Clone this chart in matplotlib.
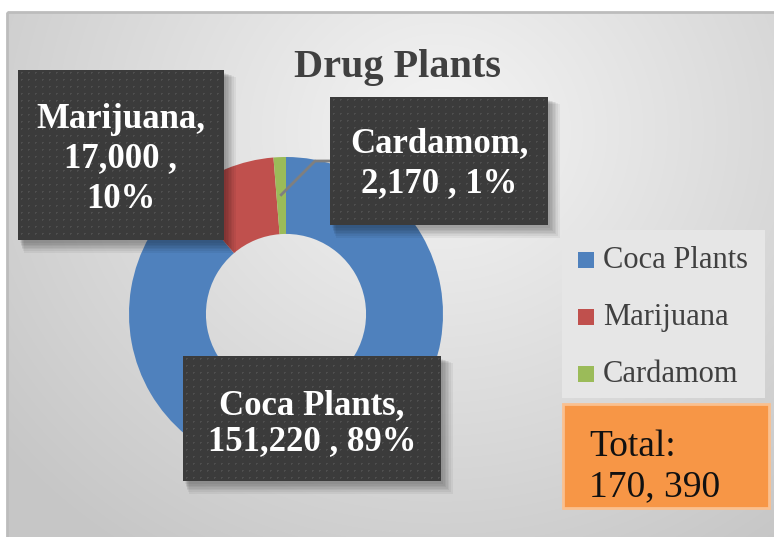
import numpy as np
import matplotlib.pyplot as plt
from matplotlib.patches import Rectangle

# donut data
names = ["Coca Plants", "Marijuana", "Cardamom"]
values = [151220, 17000, 2170]
colors = ["#4F81BD", "#C0504D", "#9BBB59"]
title = "Drug Plants"

W, H = 774, 537
plt.rcParams['font.family'] = ['Liberation Serif', 'DejaVu Serif']

fig = plt.figure(figsize=(W / 100, H / 100), dpi=100)

# background layer, pixel coordinates with y going down
bg = fig.add_axes([0, 0, 1, 1], zorder=0)
bg.axis('off')
yy, xx = np.mgrid[12:H, 7:W]
d = np.hypot((xx - 440) / 1.1, (yy - 130) / 1.0)
shade = np.clip(0.96 - 0.2 * d / 560, 0.78, 0.965)
bg.imshow(np.dstack([shade] * 3), extent=(7, W, H, 12), aspect='auto', interpolation='bilinear')
bg.add_patch(Rectangle((7, 12), W, H, fill=False, edgecolor='#bcbcbc', lw=2))
bg.set_xlim(0, W)
bg.set_ylim(H, 0)

# donut, centre (286, 314) px, radius 157 px
cx, cy, R = 286, 314, 157
dn = fig.add_axes([(cx - R) / W, (H - cy - R) / H, 2 * R / W, 2 * R / H], zorder=1)
dn.patch.set_alpha(0)
wedges, _ = dn.pie(values, colors=colors, startangle=90, counterclock=False,
                   radius=1, wedgeprops=dict(width=0.49, edgecolor='none'))
dn.set_xlim(-1, 1)
dn.set_ylim(-1, 1)
dn.set_aspect('equal')

# overlay: title, labels, legend, total
ov = fig.add_axes([0, 0, 1, 1], zorder=2)
ov.patch.set_alpha(0)
ov.axis('off')
ov.set_xlim(0, W)
ov.set_ylim(H, 0)

ov.text(398, 77, title, ha='center', va='baseline', fontsize=29,
        fontweight='bold', color='#404040')

total = sum(values)
pcts = [round(100 * v / total) for v in values]


def dark_box(x0, y0, x1, y1):
    # soft shadow towards the lower right
    for k in range(7):
        ov.add_patch(Rectangle((x0 + 2 + k * 0.6, y0 + 3 + k * 0.6), x1 - x0 + k, y1 - y0 + k,
                               facecolor='black', edgecolor='none', alpha=0.05, zorder=1))
    w, h = int(x1 - x0), int(y1 - y0)
    pat = np.empty((h, w, 3))
    pat[:] = 0.235
    pat[2::7, 3::7] = 0.31
    pat[3::7, 3::7] = 0.30
    pat[2::7, 4::7] = 0.30
    ov.imshow(pat, extent=(x0, x1, y1, y0), aspect='auto', interpolation='nearest', zorder=2)


label_fmt = [
    "{n},\n{v:,} , {p}%",
    "{n},\n{v:,} ,\n{p}%",
    "{n},\n{v:,} , {p}%",
]
boxes = [(183, 356, 441, 481), (18, 70, 224, 240), (330, 97, 548, 225)]
spacing = [1.12, 1.28, 1.28]
shift = [5, 4, 3]
for i in range(3):
    x0, y0, x1, y1 = boxes[i]
    dark_box(x0, y0, x1, y1)
    ov.text((x0 + x1) / 2, (y0 + y1) / 2 + shift[i],
            label_fmt[i].format(n=names[i], v=values[i], p=pcts[i]),
            ha='center', va='center', fontsize=25, fontweight='bold', color='white',
            linespacing=spacing[i], zorder=3)

# leader line from the small slice to its label
w2 = wedges[2]
a = np.deg2rad((w2.theta1 + w2.theta2) / 2)
p = dn.transData.transform((0.76 * np.cos(a), 0.76 * np.sin(a)))
sx, sy = ov.transData.inverted().transform(p)
ov.plot([sx, 315, 330], [sy, 161, 161], color='#7f7f7f', lw=2, zorder=1.5)

# legend
ov.add_patch(Rectangle((562, 230), 203, 168, facecolor='#e6e6e6', edgecolor='none', zorder=1))
for i, (n, c) in enumerate(zip(names, colors)):
    y = 260 + 57 * i
    ov.add_patch(Rectangle((578, y - 8), 16, 16, facecolor=c, edgecolor='none', zorder=2))
    ov.text(603, y, n, ha='left', va='center', fontsize=22, color='#404040', zorder=3)

# total box
ov.add_patch(Rectangle((563, 404), 206, 104, facecolor='#F79646', edgecolor='#FAC08F',
                       lw=2, zorder=2))
tot = "{:,}".format(total).replace(",", ", ")
ov.text(589, 467, "Total:\n" + tot, ha='left', va='center', fontsize=27,
        color='#111111', linespacing=1.2, zorder=3)

fig.savefig('out.png', dpi=100)
